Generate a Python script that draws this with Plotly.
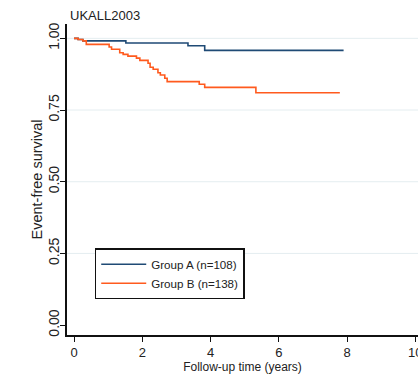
import plotly.graph_objects as go

# Data
group_a_time = [0, 0.12, 0.26, 1.52, 3.34, 3.83, 7.90]
group_a_surv = [1.0, 0.996, 0.991, 0.984, 0.974, 0.958, 0.958]

group_b_time = [0, 0.12, 0.26, 0.36, 1.03, 1.10, 1.34, 1.44, 1.58, 1.83, 1.93,
                2.17, 2.23, 2.32, 2.46, 2.53, 2.66, 2.73, 3.67, 3.83, 5.33, 7.79]
group_b_surv = [1.0, 0.996, 0.991, 0.979, 0.970, 0.962, 0.950, 0.944, 0.938, 0.931, 0.923,
                0.913, 0.899, 0.892, 0.880, 0.872, 0.861, 0.849, 0.840, 0.829, 0.810, 0.810]

series_names = ["Group A (n=108)", "Group B (n=138)"]
x_ticks = [0, 2, 4, 6, 8, 10]
y_ticks = [0.0, 0.25, 0.5, 0.75, 1.0]
y_ticklabels = ["0.00", "0.25", "0.50", "0.75", "1.00"]
grid_vals = [0.25, 0.5, 0.75, 1.0]

FONT = "Liberation Sans, Arial, sans-serif"
BLUE = "#1f4a75"
ORANGE = "#ff5a1e"

fig = go.Figure()
fig.add_trace(go.Scatter(x=group_a_time, y=group_a_surv, mode="lines", line_shape="hv",
                         line=dict(color=BLUE, width=1.6), name=series_names[0]))
fig.add_trace(go.Scatter(x=group_b_time, y=group_b_surv, mode="lines", line_shape="hv",
                         line=dict(color=ORANGE, width=1.6), name=series_names[1]))

for g in grid_vals:
    fig.add_shape(type="line", xref="paper", yref="y", x0=0, x1=1, y0=g, y1=g,
                  line=dict(color="#e4edf0", width=1), layer="below")

fig.add_annotation(text="Event-free survival", textangle=-90, xref="paper", yref="paper",
                   x=0, y=0.5, xshift=-31, xanchor="center", yanchor="middle",
                   showarrow=False, font=dict(size=14.5, color="#222", family=FONT))

fig.update_layout(
    width=418, height=377,
    margin=dict(l=67, r=0, t=24, b=42, autoexpand=False),
    paper_bgcolor="white", plot_bgcolor="white",
    font=dict(family=FONT, color="#222"),
    title=dict(text="UKALL2003", x=70/418, xanchor="left", xref="container",
               y=1-15.7/377, yanchor="middle", yref="container",
               font=dict(size=13, color="#222", family=FONT)),
    showlegend=True,
    legend=dict(x=0.079, y=0.279, xanchor="left", yanchor="top",
                bordercolor="#111", borderwidth=1.5, bgcolor="white",
                font=dict(size=11.6, color="#222", family=FONT),
                itemwidth=45, tracegroupgap=0),
    xaxis=dict(range=[-0.205, 10.08], tickvals=x_ticks, ticks="outside", ticklen=5,
               tickwidth=1.2, tickcolor="#111", showline=True, linecolor="#111", linewidth=1.5,
               showgrid=False, zeroline=False, tickfont=dict(size=13),
               ticklabeloverflow="allow", automargin=False,
               title=dict(text="Follow-up time (years)", font=dict(size=12), standoff=2)),
    yaxis=dict(range=[-0.0345, 1.05], tickvals=y_ticks, ticktext=y_ticklabels,
               ticks="outside", ticklen=5, tickwidth=1.2, tickcolor="#111",
               showline=True, linecolor="#111", linewidth=1.5, showgrid=False,
               zeroline=False, tickangle=-90, tickfont=dict(size=14), automargin=False,
               ticklabelstandoff=-4),
)

fig.write_html("out.html")
